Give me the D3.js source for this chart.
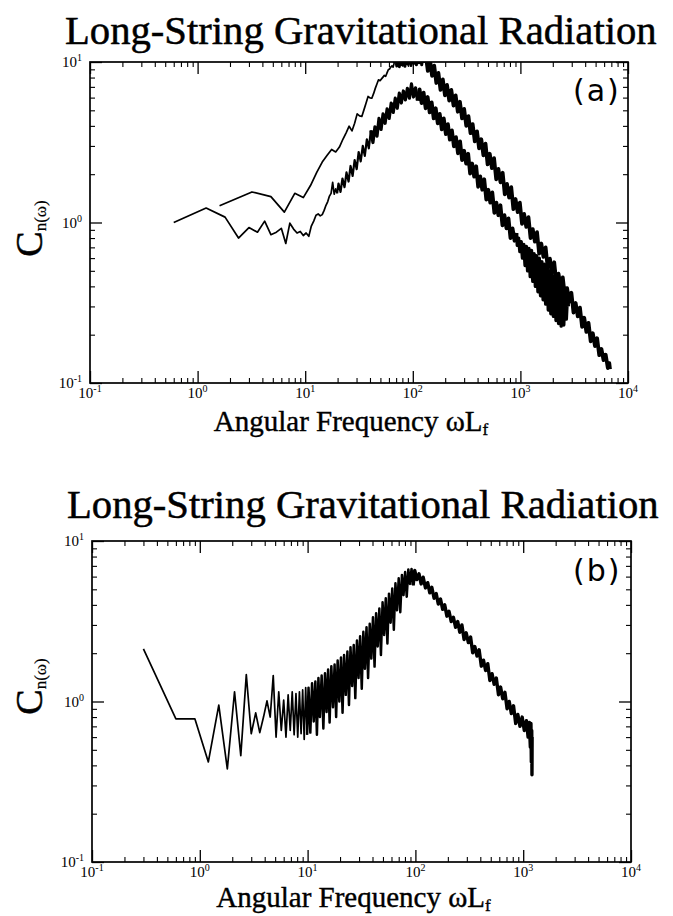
<!DOCTYPE html>
<html><head><meta charset="utf-8">
<script src="https://cdn.jsdelivr.net/npm/d3@7"></script>
<style>html,body{margin:0;padding:0;background:#fff;} svg{display:block;}</style>
</head><body>
<svg id="chart" width="673" height="916"></svg>
<script>
const titleText = "Long-String Gravitational Radiation";
const panelLabels = ["(a)", "(b)"];
const xLabelMain = "Angular Frequency \u03c9L";
const xLabelSub = "f";
const yLabelMain = "C";
const yLabelSub = "n(\u03c9)";
const xTickExps = [-1, 0, 1, 2, 3, 4];
const yTickExps = [-1, 0, 1];
const xDomain = [0.1, 10000];
const yDomain = [0.1, 10];

// panel (a), lower curve
const curveA1 = [
[0.6,1.00],[1.2,1.23],[1.8,1.08],[2.4,0.80],[3.0,0.93],[3.6,0.87],[4.2,1.02],[4.8,0.84],[5.4,0.87],[6.0,0.92],[6.6,0.74],[7.2,0.99],[7.8,0.91],[8.4,0.86],[9.0,0.88],[9.6,0.83],[10.2,0.86],[10.8,0.82],[11.4,0.95],[12.0,1.02],[12.6,1.11],[13.2,1.13],[13.8,1.10],[14.4,1.12],[15.0,1.19],[15.6,1.28],[16.2,1.35],[16.8,1.46],[17.4,1.52],[18.0,1.78],[18.6,1.50],[19.2,1.62],[19.8,1.52],
[20.4,1.75],[21.3,1.55],[22.2,1.88],[23.2,1.66],[24.2,2.05],[25.3,1.80],[26.4,2.25],[27.6,1.95],[28.8,2.45],[30.1,2.15],[31.4,2.75],[32.8,2.40],[34.3,3.00],[35.8,2.60],[37.4,3.30],[39.0,2.90],[40.8,3.75],[42.6,3.15],[44.5,3.95],[46.5,3.45],[48.5,4.45],[50.7,3.80],[52.9,4.75],[55.3,4.15],[57.7,5.10],[60.3,4.45],[63.0,5.55],[65.8,4.85],[68.7,5.95],[71.7,5.15],[74.9,6.40],[78.2,5.55],[81.7,6.60],[85.3,5.80],[89.1,6.85],[93.0,5.95],[97.2,7.30],[101.5,6.05],[106,6.90],[110.7,5.75],
[115.6,6.75],[120.7,5.55],[126,6.45],[131.6,5.15],[137.4,6.05],[143.5,4.85],[149.8,5.60],[156.4,4.45],[163.3,5.15],[170.5,4.15],[178,4.75],[186,3.80],[194,4.45],[203,3.55],[212,4.10],[221,3.28],[231,3.75],[241,2.98],[252,3.40],[263,2.70],[275,3.20],[287,2.45],[300,2.80],[313,2.33],[327,2.68],[341,2.02],[356,2.33],[372,1.93],[388,2.24],[405,1.67],[423,1.94],[442,1.60],[461,1.86],[482,1.39],[503,1.60],[525,1.33],[548,1.54],[573,1.15],[598,1.33],[624,1.11],[652,1.28],[681,0.96],[711,1.11],[742,0.92],[775,1.06],[809,0.80],[845,0.92],[882,0.77],[921,0.86],
[936,0.72],[962,0.80],[989,0.66],[1017,0.76],[1045,0.60],[1075,0.73],[1105,0.54],[1136,0.71],[1167,0.50],[1200,0.69],[1234,0.46],[1268,0.67],[1304,0.43],[1340,0.64],[1378,0.40],[1416,0.62],[1456,0.37],[1497,0.60],[1539,0.35],[1582,0.57],[1626,0.33],[1672,0.55],[1718,0.31],[1766,0.52],[1816,0.285],[1866,0.50],[1919,0.27],[1972,0.48],[2028,0.26],[2084,0.46],[2143,0.245],[2203,0.44],[2264,0.235],[2328,0.42],[2393,0.226],[2460,0.41],[2529,0.23],[2600,0.39],[2672,0.25],[2747,0.37],[2790,0.30]
];

// panel (a), upper curve
const curveA2 = [
[1.6,1.27],[3.2,1.55],[4.8,1.45],[6.4,1.16],[8.0,1.52],[9.6,1.43],[11.2,1.70],[12.8,2.05],[14.4,2.38],[16.0,2.62],[17.6,2.85],[19.2,2.75],[20.8,2.95],[22.4,3.30],[24.0,3.62],[25.6,3.98],[27.2,3.72],[28.8,4.15],[30.4,4.75],[32.0,4.62],[33.6,4.58],[35.2,5.05],[36.8,5.55],[38.4,6.10],[40.0,5.98],[41.6,5.95],[43.2,6.35],[44.8,6.85],[46.4,7.30],[48.0,7.75],[49.6,7.65],[51.2,7.85],[52.8,8.05],[54.4,8.25],[56.0,8.15],[57.6,8.55],[59.2,8.95],[60.8,9.05],[62.4,9.30],[64.0,9.45],[65.6,9.30],[67.2,9.85],
[69,10.6],[71,9.45],[73,10.9],[75,9.35],[77,11.2],[79.5,9.6],[82,11.5],[84.5,9.4],[87,11.8],[90,9.7],[93,12.0],[96,9.5],[99,12.1],[102,9.8],[105,12.0],[108,9.6],[111,11.8],[114,9.9],[117.5,11.5],[121,9.6],[124.5,11.0],[128,9.9],
[132,11.0],[138,8.8],[144.5,10.3],[151,8.2],[158,9.5],[165.5,7.4],[173,8.55],[181,6.7],[190,7.8],[199,6.2],[208,7.2],[218,5.75],[228,6.7],[239,5.35],[250,6.2],[262,4.9],[274,5.65],[287,4.45],[300,5.1],[314,4.0],[329,4.6],[344,3.6],[360,4.1],[377,3.2],[395,3.7],[413,2.9],[433,3.3],[453,2.62],[474,3.10],[496,2.30],[519,2.68],[544,2.18],[569,2.52],[596,1.86],[624,2.16],[653,1.78],[684,2.04],[716,1.50],[750,1.74],[785,1.43],[822,1.66],[861,1.21],[901,1.40],[944,1.16],[988,1.33],[1035,0.98],[1083,1.13],[1134,0.94],[1188,1.08],[1243,0.80],[1302,0.91],[1363,0.76],[1427,0.87],[1494,0.64],[1564,0.74],[1638,0.61],[1715,0.70],[1795,0.52],[1880,0.595],[1968,0.49],[2061,0.565],[2158,0.42],[2259,0.48],[2365,0.40],[2476,0.455],[2593,0.345],[2715,0.39],[2842,0.32],[2976,0.365],[3116,0.275],[3262,0.315],[3415,0.26],[3576,0.295],[3744,0.224],[3920,0.255],[4104,0.208],[4297,0.237],[4499,0.182],[4710,0.204],[4932,0.170],[5163,0.19],[5406,0.149],[5660,0.163],[5926,0.139],[6204,0.150],[6496,0.124],[6700,0.133],[6800,0.122]
];

// panel (b)
const curveB = [
[0.3,2.13],[0.6,0.78],[0.9,0.78],[1.2,0.42],[1.5,0.95],[1.8,0.38],[2.1,1.15],[2.4,0.46],[2.7,1.47],[3.0,0.63],[3.3,0.85],[3.6,0.64],[3.9,0.80],[4.2,1.01],[4.5,0.80],[4.8,1.45],[5.1,0.60],[5.4,1.15],[5.7,0.66],[6.0,1.02],[6.3,0.60],[6.6,1.10],[6.9,0.66],[7.2,1.15],[7.5,0.62],[7.8,1.12],[8.1,0.60],[8.4,1.15],[8.7,0.63],[9.0,1.18],[9.3,0.58],[9.6,1.22],[9.9,0.62],
[10.2,1.22],[10.6,0.64],[11.0,1.30],[11.4,0.75],[11.8,1.33],[12.2,0.62],[12.6,1.40],[13.0,0.80],[13.5,1.45],[14.0,0.68],[14.5,1.50],[15.0,0.86],[15.5,1.58],[16.0,0.74],[16.6,1.66],[17.2,0.92],[17.8,1.70],[18.4,0.80],[19.0,1.80],[19.7,1.00],[20.4,1.88],[21.1,0.85],[21.8,1.95],[22.6,1.10],[23.4,2.05],[24.2,0.95],[25.0,2.18],[25.9,1.25],[26.8,2.25],[27.7,1.05],[28.7,2.40],[29.7,1.40],[30.7,2.55],[31.8,1.20],[32.9,2.72],[34.0,1.60],[35.2,2.90],[36.4,1.40],[37.7,3.05],[39.0,1.85],[40.4,3.35],[41.8,1.65],[43.2,3.55],[44.7,2.20],[46.3,3.80],[47.9,1.95],[49.6,4.15],[51.3,2.60],[53.1,4.40],[55.0,2.30],[56.9,4.70],[58.9,3.10],[61.0,5.05],[63.1,2.80],[65.3,5.45],[67.6,3.70],[70.0,5.85],[72.4,3.60],[75.0,6.15],[77.6,4.60],[80.3,6.40],[83.1,4.50],[86.0,6.65],[89.0,5.40],[92.1,6.70],[95.3,5.30],
[98.6,6.55],[103,5.75],[108,6.25],[113,5.40],[118,5.95],[124,5.10],[130,5.50],[136,4.75],[142,5.15],[149,4.40],[156,4.70],[163,4.05],[171,4.35],[179,3.75],[187,4.00],[196,3.40],[205,3.65],[215,3.15],[225,3.35],[236,2.90],[247,3.15],[258,2.70],[270,3.00],[283,2.43],[296,2.68],[310,2.33],[325,2.52],[340,2.01],[356,2.20],[373,1.92],[390,2.10],[409,1.66],[428,1.81],[448,1.56],[469,1.72],[491,1.35],[514,1.49],[538,1.28],[563,1.40],[590,1.10],[617,1.23],[646,1.04],[677,1.14],[709,0.90],[742,1.00],[777,0.84],[813,0.94],[852,0.73],[892,0.83],[934,0.70],[978,0.80],[1024,0.66],[1072,0.76],[1110,0.60],[1140,0.74],[1165,0.52],[1180,0.73],[1190,0.42],[1200,0.66],[1206,0.35],[1210,0.60]
];

const svg = d3.select("#chart");
const serif = "Liberation Serif";

// each series: data, frequency where the dense band starts, stroke widths for the band parts
const panels = [
  {left: 90, right: 628, top: 62, bottom: 383, titleY: 44,
   series: [{data: curveA1, bandFrom: 19.8, band: [{to: 40.8, w: 2.2}, {to: 110.7, w: 3.2}, {to: 921, w: 3.8}, {to: 1e9, w: 3.4}]},
            {data: curveA2, bandFrom: 67.2, band: [{to: 128, w: 3.0}, {to: 1e9, w: 3.8}]}],
   label: panelLabels[0]},
  {left: 92, right: 631, top: 541, bottom: 862, titleY: 518,
   series: [{data: curveB, bandFrom: 9.9, band: [{to: 95.3, w: 2.5}, {to: 1e9, w: 3.4}]}],
   label: panelLabels[1]}
];

function minorValues(e0, e1) {
  const v = [];
  for (let e = e0; e < e1; e++) for (let m = 2; m <= 9; m++) v.push(m * Math.pow(10, e));
  return v;
}

function fitText(sel, targetWidth, baseSize) {
  const len = sel.node().getComputedTextLength();
  sel.attr("font-size", baseSize * targetWidth / len);
}

panels.forEach((p, i) => {
  const x = d3.scaleLog().domain(xDomain).range([p.left, p.right]);
  const y = d3.scaleLog().domain(yDomain).range([p.bottom, p.top]);
  const g = svg.append("g");

  // title
  const t = g.append("text").attr("x", p.left - 25).attr("y", p.titleY)
    .attr("font-family", serif).attr("font-size", 38).attr("fill", "#000")
    .attr("stroke", "#000").attr("stroke-width", 0.5).text(titleText);
  fitText(t, 592, 38);

  // clip
  const cid = "clip" + i;
  svg.append("clipPath").attr("id", cid).append("rect")
    .attr("x", p.left).attr("y", p.top).attr("width", p.right - p.left).attr("height", p.bottom - p.top);

  // data
  const line = d3.line().x(d => x(d[0])).y(d => y(d[1]));
  const dg = g.append("g").attr("clip-path", `url(#${cid})`);
  p.series.forEach(s => {
    dg.append("path").datum(s.data.filter(d => d[0] <= s.bandFrom)).attr("d", line).attr("fill", "none")
      .attr("stroke", "#000").attr("stroke-width", 1.7).attr("stroke-linejoin", "round");
    let from = s.bandFrom;
    s.band.forEach(b => {
      const part = s.data.filter(d => d[0] >= from && d[0] <= b.to);
      dg.append("path").datum(part).attr("d", line).attr("fill", "none")
        .attr("stroke", "#000").attr("stroke-width", b.w).attr("stroke-linejoin", "round");
      from = b.to;
    });
  });

  // axes ticks
  const majX = xTickExps.map(e => Math.pow(10, e));
  const majY = yTickExps.map(e => Math.pow(10, e));
  const minX = minorValues(-1, 4);
  const minY = minorValues(-1, 1);
  const axes = [
    [d3.axisBottom(x), `translate(0,${p.bottom})`, majX, minX],
    [d3.axisTop(x), `translate(0,${p.top})`, majX, minX],
    [d3.axisLeft(y), `translate(${p.left},0)`, majY, minY],
    [d3.axisRight(y), `translate(${p.right},0)`, majY, minY]
  ];
  axes.forEach(([ax, tr, maj, min]) => {
    const a1 = g.append("g").attr("transform", tr)
      .call(ax.tickValues(maj).tickSize(-12).tickSizeOuter(0).tickFormat(""));
    a1.select(".domain").remove();
    a1.selectAll("line").attr("stroke-width", 1.3);
    const a2 = g.append("g").attr("transform", tr)
      .call(ax.tickValues(min).tickSize(-5).tickSizeOuter(0).tickFormat(""));
    a2.select(".domain").remove();
    a2.selectAll("line").attr("stroke-width", 1.1);
  });

  // frame
  g.append("rect").attr("x", p.left).attr("y", p.top)
    .attr("width", p.right - p.left).attr("height", p.bottom - p.top)
    .attr("fill", "none").attr("stroke", "#000").attr("stroke-width", 1.7);

  // x tick labels
  xTickExps.forEach(e => {
    const tx = g.append("text").attr("x", x(Math.pow(10, e))).attr("y", p.bottom + 15)
      .attr("text-anchor", "middle").attr("font-family", serif).attr("font-size", 15);
    tx.append("tspan").text("10");
    tx.append("tspan").attr("font-size", 10).attr("dy", -6).text(String(e));
  });
  // y tick labels
  yTickExps.forEach(e => {
    const ty = g.append("text").attr("x", p.left - 8).attr("y", y(Math.pow(10, e)) + 5)
      .attr("text-anchor", "end").attr("font-family", serif).attr("font-size", 15);
    ty.append("tspan").text("10");
    ty.append("tspan").attr("font-size", 10).attr("dy", -6).text(String(e));
  });

  // x label
  const xl = g.append("text").attr("x", (p.left + p.right) / 2 - 8).attr("y", p.bottom + (i === 0 ? 48 : 45))
    .attr("text-anchor", "middle").attr("font-family", serif).attr("font-size", 29)
    .attr("stroke", "#000").attr("stroke-width", 0.4);
  xl.append("tspan").text(xLabelMain);
  xl.append("tspan").attr("font-size", 17).attr("dy", 4).text(xLabelSub);

  // y label
  const cy = (p.top + p.bottom) / 2 + (i === 0 ? 6 : -15);
  const yl = g.append("text").attr("transform", `translate(42,${cy}) rotate(-90)`)
    .attr("text-anchor", "middle").attr("font-family", serif).attr("font-size", 38)
    .attr("stroke", "#000").attr("stroke-width", 0.5);
  yl.append("tspan").text(yLabelMain);
  yl.append("tspan").attr("font-size", 17).attr("stroke-width", 0.2).attr("dy", 4).text(yLabelSub);

  // panel label
  g.append("text").attr("x", 573).attr("y", p.top + 39 + (i === 0 ? 0 : 1))
    .attr("font-family", "DejaVu Sans").attr("font-size", 30)
    .attr("letter-spacing", 2).text(p.label);
});
</script>
</body></html>
